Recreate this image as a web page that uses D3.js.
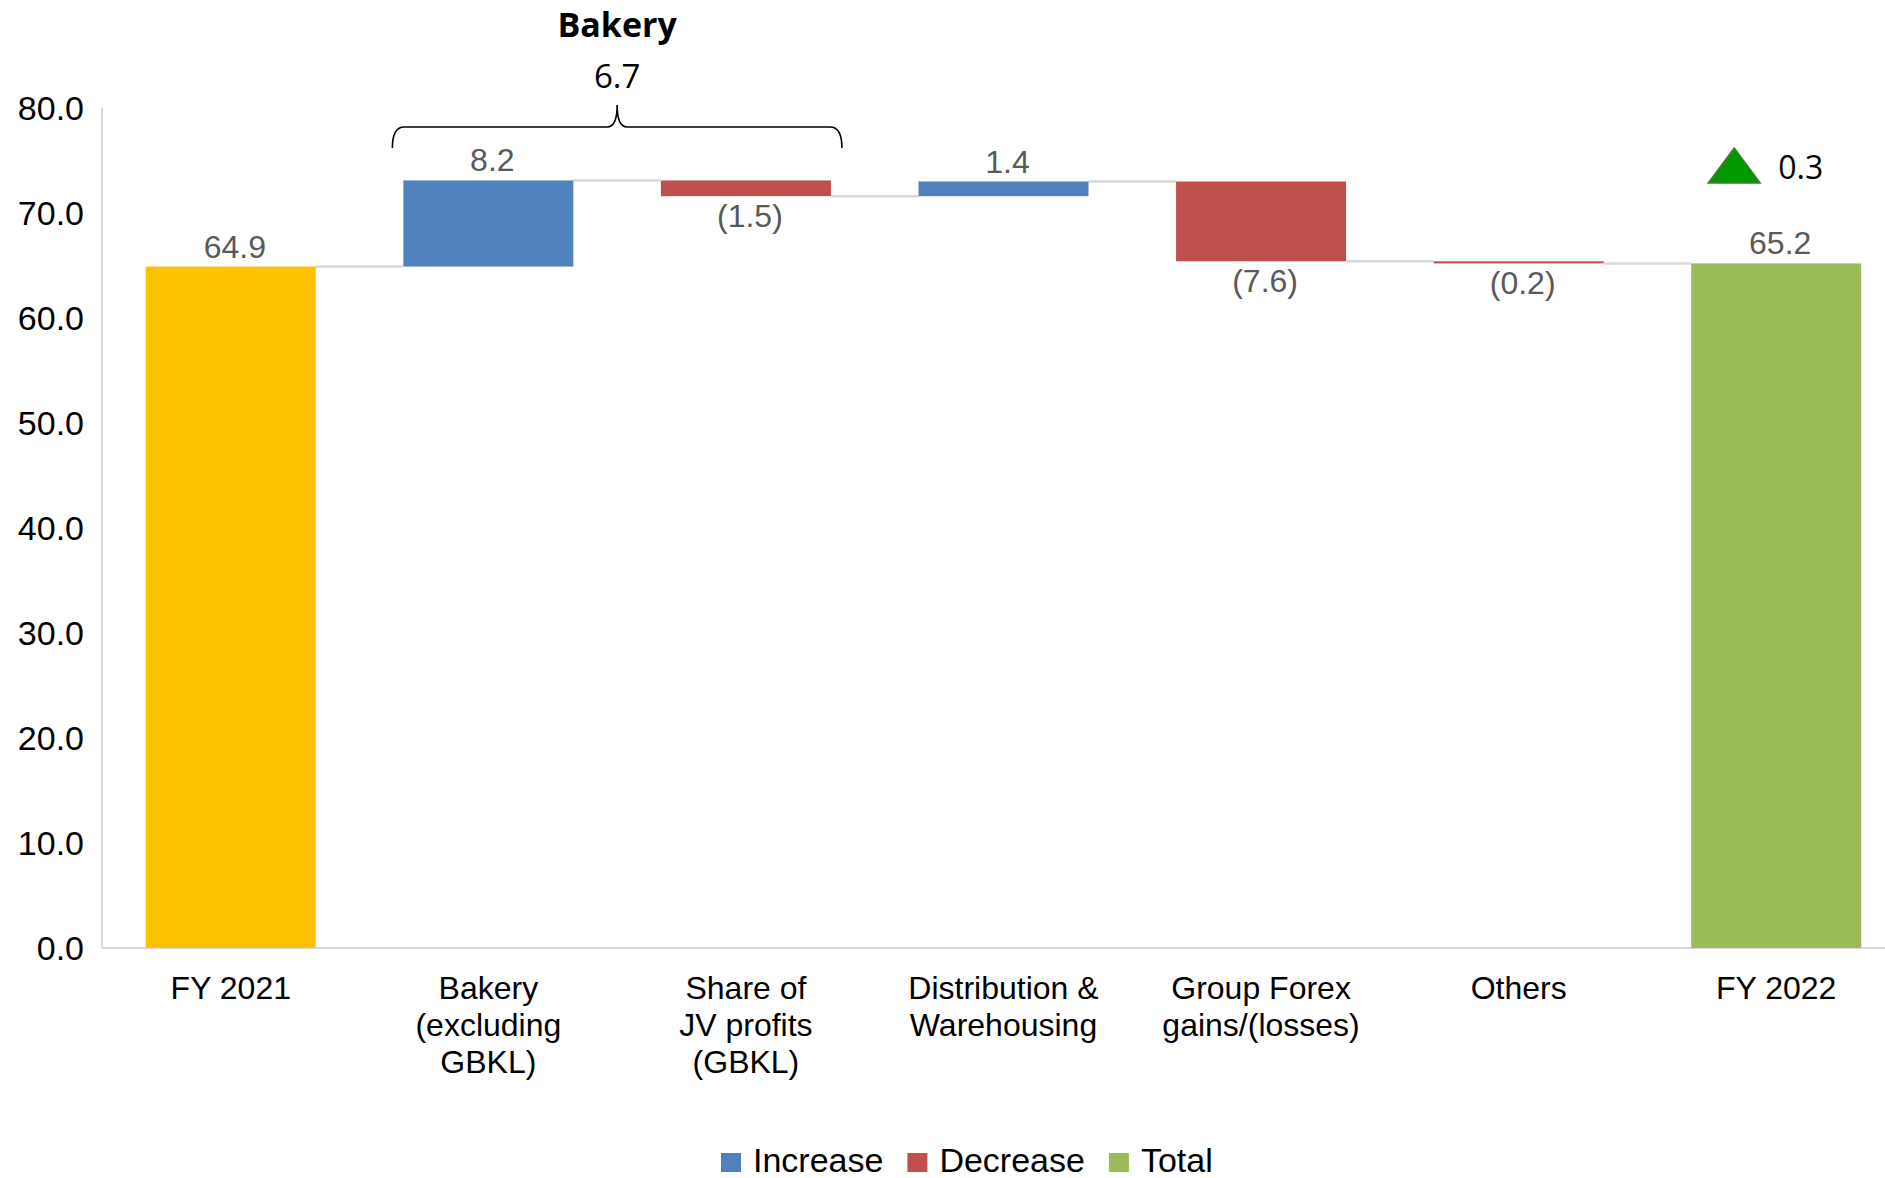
<!DOCTYPE html>
<html>
<head>
<meta charset="utf-8">
<script src="https://cdn.jsdelivr.net/npm/d3@7"></script>
<style>
  html, body { margin: 0; padding: 0; background: #ffffff; }
  svg { display: block; }
</style>
</head>
<body>
<svg id="chart" width="1885" height="1178"></svg>
<script>
// Profit bridge FY 2021 -> FY 2022
const categories = [
  "FY 2021",
  "Bakery (excluding GBKL)",
  "Share of JV profits (GBKL)",
  "Distribution & Warehousing",
  "Group Forex gains/(losses)",
  "Others",
  "FY 2022"
];
const categoryLines = [
  ["FY 2021"],
  ["Bakery", "(excluding", "GBKL)"],
  ["Share of", "JV profits", "(GBKL)"],
  ["Distribution &", "Warehousing"],
  ["Group Forex", "gains/(losses)"],
  ["Others"],
  ["FY 2022"]
];
const values = [64.9, 8.2, -1.5, 1.4, -7.6, -0.2, 65.2];
const kinds = ["start", "increase", "decrease", "increase", "decrease", "decrease", "total"];
const yTicks = [0, 10, 20, 30, 40, 50, 60, 70, 80];
const bakeryGroup = ["Bakery (excluding GBKL)", "Share of JV profits (GBKL)"];
const legendItems = [
  { key: "increase", label: "Increase" },
  { key: "decrease", label: "Decrease" },
  { key: "total", label: "Total" }
];

const colors = {
  start: "#FFC000",
  increase: "#4F81BD",
  decrease: "#C0504D",
  total: "#9BBB59"
};

const svg = d3.select("#chart");
const axisFont = "'Liberation Sans', Arial, sans-serif";
const noteFont = "'Open Sans', 'Liberation Sans', sans-serif";

const x = d3.scaleBand()
  .domain(categories)
  .range([102, 1905])
  .paddingInner(0.34)
  .paddingOuter(0.17);
const y = d3.scaleLinear().domain([0, 80]).range([948, 108]);
const bw = x.bandwidth();

// Running levels of the waterfall
let running = 0;
const steps = categories.map((c, i) => {
  const v = values[i];
  const k = kinds[i];
  let start, end;
  if (k === "start" || k === "total") { start = 0; end = v; running = v; }
  else { start = running; end = running + v; running = end; }
  return { cat: c, value: v, kind: k, start, end, lo: Math.min(start, end), hi: Math.max(start, end) };
});

// Axes lines
svg.append("line")
  .attr("x1", 102).attr("x2", 102)
  .attr("y1", y(80)).attr("y2", y(0))
  .attr("stroke", "#d9d9d9").attr("stroke-width", 2);
svg.append("line")
  .attr("x1", 102).attr("x2", 1885)
  .attr("y1", y(0)).attr("y2", y(0))
  .attr("stroke", "#d9d9d9").attr("stroke-width", 2);

// Y tick labels
const yAxis = d3.axisLeft(y).tickValues(yTicks).tickFormat(d3.format(".1f")).tickSize(0).tickPadding(0);
const gy = svg.append("g").attr("transform", "translate(84,0)").call(yAxis);
gy.select(".domain").remove();
gy.selectAll("text")
  .attr("font-family", axisFont)
  .attr("font-size", 34)
  .attr("fill", "#000")
  .attr("dy", "0.35em");

// Connectors
const conn = svg.append("g");
steps.forEach((s, i) => {
  if (i === steps.length - 1) return;
  conn.append("line")
    .attr("x1", x(s.cat) + bw)
    .attr("x2", x(categories[i + 1]))
    .attr("y1", y(s.end)).attr("y2", y(s.end))
    .attr("stroke", "#d9d9d9").attr("stroke-width", 2.5);
});

// Bars
svg.append("g").selectAll("rect")
  .data(steps)
  .join("rect")
  .attr("x", d => x(d.cat))
  .attr("width", bw)
  .attr("y", d => y(d.hi))
  .attr("height", d => Math.max(1.5, y(d.lo) - y(d.hi)))
  .attr("fill", d => colors[d.kind]);

// Value labels
const fmt = d3.format(".1f");
svg.append("g").selectAll("text")
  .data(steps)
  .join("text")
  .attr("x", d => x(d.cat) + bw / 2 + 4)
  .attr("y", d => d.value < 0 ? y(d.lo) + 31 : y(d.hi) - 9)
  .attr("text-anchor", "middle")
  .attr("font-family", axisFont)
  .attr("font-size", 32)
  .attr("fill", "#595959")
  .text(d => d.value < 0 ? "(" + fmt(-d.value) + ")" : fmt(d.value));

// Category labels
const xl = svg.append("g");
categories.forEach((c, i) => {
  const t = xl.append("text")
    .attr("x", x(c) + bw / 2)
    .attr("y", 999)
    .attr("text-anchor", "middle")
    .attr("font-family", axisFont)
    .attr("font-size", 32)
    .attr("fill", "#000");
  categoryLines[i].forEach((line, j) => {
    t.append("tspan")
      .attr("x", x(c) + bw / 2)
      .attr("dy", j === 0 ? 0 : 37)
      .text(line);
  });
});

// Bakery bracket with subtotal
const bakeryTotal = d3.sum(steps.filter(s => bakeryGroup.includes(s.cat)), s => s.value);
const bl = x(bakeryGroup[0]) - 11;
const br = x(bakeryGroup[1]) + bw + 11;
const bm = (bl + br) / 2;
const bTop = 127, bEnd = 148, bTip = 105;
svg.append("path")
  .attr("d", `M${bl},${bEnd} Q${bl},${bTop} ${bl + 12},${bTop} L${bm - 10},${bTop} Q${bm},${bTop} ${bm},${bTip} Q${bm},${bTop} ${bm + 10},${bTop} L${br - 12},${bTop} Q${br},${bTop} ${br},${bEnd}`)
  .attr("fill", "none")
  .attr("stroke", "#000")
  .attr("stroke-width", 1.6);
svg.append("text")
  .attr("x", bm).attr("y", 88)
  .attr("text-anchor", "middle")
  .attr("font-family", noteFont)
  .attr("font-size", 33)
  .attr("fill", "#000")
  .text(fmt(bakeryTotal));
svg.append("text")
  .attr("x", bm).attr("y", 37)
  .attr("text-anchor", "middle")
  .attr("font-family", noteFont)
  .attr("font-weight", "bold")
  .attr("font-size", 34)
  .attr("fill", "#000")
  .text("Bakery");

// Net change marker next to the closing bar
const netChange = values[values.length - 1] - values[0];
const lastC = x(categories[categories.length - 1]) + bw / 2;
const tx = lastC - 42;
svg.append("path")
  .attr("d", `M${tx - 26},183 L${tx + 26},183 L${tx},148 Z`)
  .attr("fill", netChange >= 0 ? "#009A00" : "#C00000")
  .attr("stroke", "#3f7f2a")
  .attr("stroke-width", 1.5);
svg.append("text")
  .attr("x", lastC + 2).attr("y", 179)
  .attr("font-family", noteFont)
  .attr("font-size", 32)
  .attr("fill", "#000")
  .text(fmt(Math.abs(netChange)));

// Legend
const lg = svg.append("g");
let lx = 721;
legendItems.forEach(item => {
  lg.append("rect")
    .attr("x", lx).attr("y", 1153)
    .attr("width", 20).attr("height", 19)
    .attr("fill", colors[item.key]);
  const t = lg.append("text")
    .attr("x", lx + 32).attr("y", 1172)
    .attr("font-family", axisFont)
    .attr("font-size", 34)
    .attr("fill", "#000")
    .text(item.label);
  lx = lx + 32 + t.node().getComputedTextLength() + 24;
});
</script>
</body>
</html>
